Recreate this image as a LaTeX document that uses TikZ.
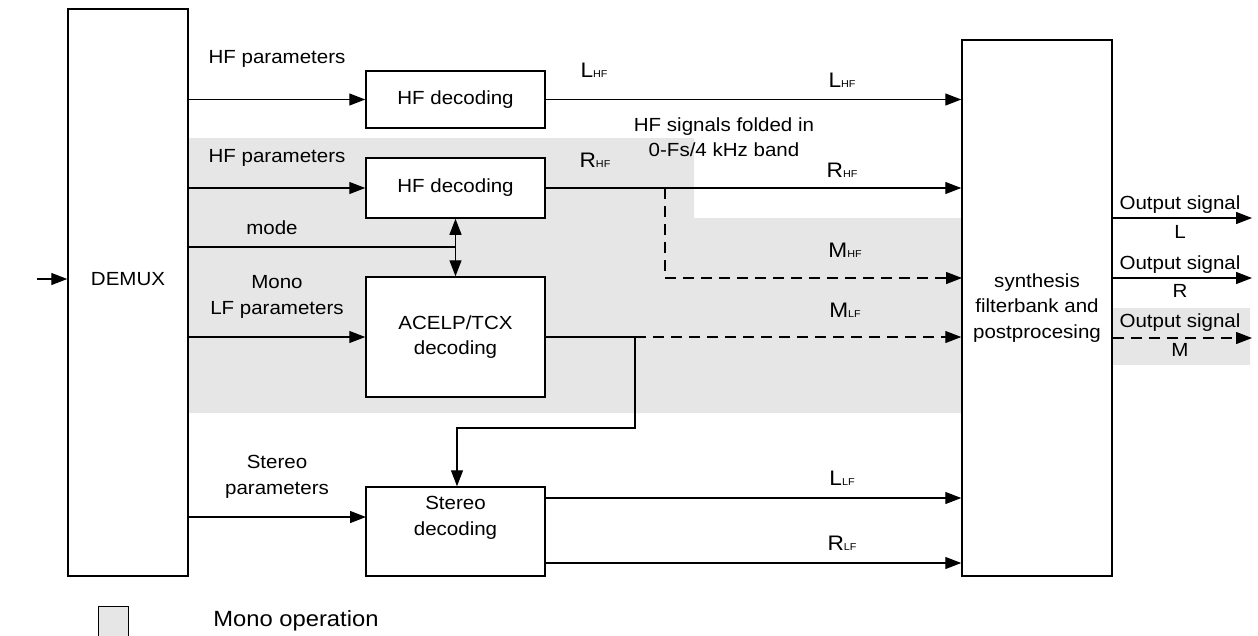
\documentclass[tikz,border=0pt]{standalone}
\usepackage{fontspec}
\setmainfont{Liberation Sans}[FakeStretch=1.08]
\usetikzlibrary{arrows.meta}
\definecolor{monogray}{RGB}{230,230,230}
\newcommand{\sg}[2]{{\fontsize{21}{21}\selectfont #1}{\fontsize{10}{10}\selectfont #2}}
\begin{document}
\begin{tikzpicture}[x=1pt,y=-1pt,
  box/.style={draw, line width=1.5pt, fill=white, inner sep=0pt},
  lbl/.style={font=\fontsize{19}{25.5}\selectfont, align=center, inner sep=0pt},
  arr/.style={line width=1.3pt, -{Triangle[length=16pt,width=12pt]}},
  darr/.style={line width=1.3pt, {Triangle[length=16pt,width=12pt]}-{Triangle[length=16pt,width=12pt]}},
  ln/.style={line width=1.3pt},
  dsh/.style={dash pattern=on 11pt off 7pt}]
\useasboundingbox (0,0) rectangle (1258,635);
% mono region
\fill[monogray] (188,138) -- (694,138) -- (694,218) -- (962,218) -- (962,413) -- (188,413) -- cycle;
\fill[monogray] (1113,308) rectangle (1250,365);
% boxes
\node[box, minimum width=120pt, minimum height=567pt] (demux) at (128,292.5) {};
\node[lbl] (demuxt) at (128,279) {DEMUX};
\node[box, minimum width=150pt, minimum height=536pt, lbl] (syn) at (1037,308) {synthesis\\filterbank and\\postprocesing};
\node[box, minimum width=179pt, minimum height=57pt, lbl] (hf1) at (455.5,99.5) {HF decoding};
\node[box, minimum width=179pt, minimum height=60pt, lbl] (hf2) at (455.5,188) {HF decoding};
\node[box, minimum width=179pt, minimum height=120pt, lbl] (acelp) at (455.5,337) {ACELP/TCX\\decoding};
\node[box, minimum width=179pt, minimum height=89pt] (stereo) at (455.5,531.5) {};
\node[lbl] (stereot) at (455.5,518) {Stereo\\decoding};
% input
\coordinate (in) at (37,279);
\draw[arr] (in) -- (demux.west |- in);
% inputs to decoders
\draw[arr] (demux.east |- hf1.west) -- (hf1.west);
\draw[arr] (demux.east |- hf2.west) -- (hf2.west);
\draw[arr] (demux.east |- acelp.west) -- (acelp.west);
\coordinate (st) at (366,517);
\draw[arr] (demux.east |- st) -- (st);
\coordinate (md) at (455.5,247);
\draw[ln] (demux.east |- md) -- (md);
\draw[darr] (hf2.south) -- (acelp.north);
\node[lbl] (l1) at (277,59) {HF parameters};
\node[lbl] (l2) at (277,158) {HF parameters};
\node[lbl] (l3) at (272,228) {mode};
\node[lbl] (l4) at (277,297) {Mono\\LF parameters};
\node[lbl] (l5) at (277,477) {Stereo\\parameters};
% outputs of decoders
\draw[arr] (hf1.east) -- (syn.west |- hf1.east);
\draw[arr] (hf2.east) -- (syn.west |- hf2.east);
\coordinate (b) at (665,188);
\coordinate (mh) at (962,278);
\draw[arr,dsh] (b) |- (mh);
\coordinate (j) at (635,337);
\draw[ln] (acelp.east) -- (j);
\draw[arr,dsh] (j) -- (syn.west |- j);
\coordinate (k) at (457,428);
\draw[arr] (j) |- (k) -- (k |- stereo.north);
\coordinate (sl) at (545,498);
\coordinate (sr) at (545,563);
\draw[arr] (sl) -- (syn.west |- sl);
\draw[arr] (sr) -- (syn.west |- sr);
% signal labels
\node[lbl] (s1) at (594,70) {\sg{L}{HF}};
\node[lbl] (s2) at (842,80) {\sg{L}{HF}};
\node[lbl] (s3) at (595,160) {\sg{R}{HF}};
\node[lbl] (s4) at (842,170) {\sg{R}{HF}};
\node[lbl] (s5) at (845,250) {\sg{M}{HF}};
\node[lbl] (s6) at (845,310) {\sg{M}{LF}};
\node[lbl] (s7) at (842,478) {\sg{L}{LF}};
\node[lbl] (s8) at (842,543) {\sg{R}{LF}};
\node[lbl] (fold) at (724,137) {HF signals folded in\\0-Fs/4 kHz band};
% outputs
\coordinate (oL) at (1252,218);
\coordinate (oR) at (1252,278);
\coordinate (oM) at (1252,338);
\draw[arr] (syn.east |- oL) -- (oL);
\draw[arr] (syn.east |- oR) -- (oR);
\draw[arr,dsh] (syn.east |- oM) -- (oM);
\node[lbl] (o1) at (1180,205) {Output signal};
\node[lbl] (o1b) at (1180,232) {L};
\node[lbl] (o2) at (1180,265) {Output signal};
\node[lbl] (o2b) at (1180,291) {R};
\node[lbl] (o3) at (1180,323) {Output signal};
\node[lbl] (o3b) at (1180,350) {M};
% legend
\node[draw, fill=monogray, line width=1pt, minimum width=30pt, minimum height=34pt, inner sep=0pt] (leg) at (113,623) {};
\node[inner sep=0pt, font=\fontsize{22}{22}\selectfont] (legt) at (296,621) {Mono operation};
\end{tikzpicture}
\end{document}
